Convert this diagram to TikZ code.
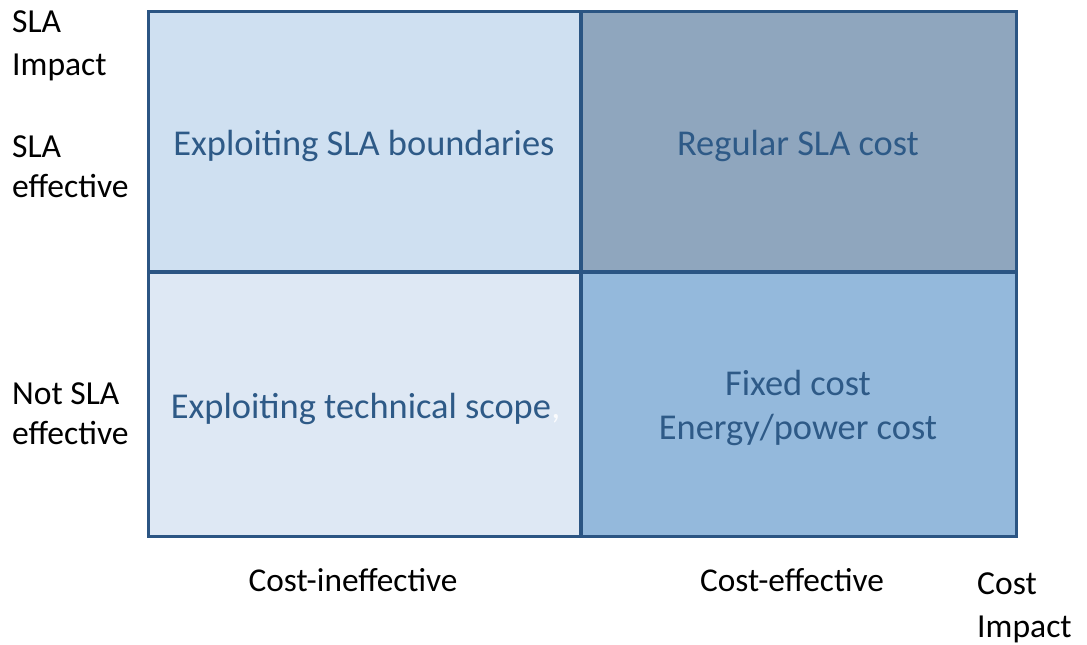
\documentclass[tikz,border=0pt]{standalone}
\usepackage{fontspec}
\setmainfont{Carlito}
\definecolor{tlfill}{HTML}{CFE0F1}
\definecolor{trfill}{HTML}{8FA6BE}
\definecolor{blfill}{HTML}{DEE8F4}
\definecolor{brfill}{HTML}{94B9DC}
\definecolor{gridline}{HTML}{2B5583}
\definecolor{celltext}{HTML}{2E5A87}
\tikzset{
  cellbox/.style={draw=gridline,line width=3.2pt},
  celllabel/.style={anchor=base,inner sep=0pt,text=celltext,font=\fontsize{36.4}{44}\selectfont},
  axislabel/.style={anchor=base west,inner sep=0pt,text=black,font=\fontsize{33.6}{40}\selectfont},
  ticklabel/.style={anchor=base,inner sep=0pt,text=black,font=\fontsize{33.3}{40}\selectfont}
}
\begin{document}
\begin{tikzpicture}[x=1pt,y=-1pt]
\useasboundingbox[fill=white] (0,0) rectangle (1087,645);
% cells
\fill[tlfill] (147,10) rectangle (581,272);
\fill[trfill] (581,10) rectangle (1015,272);
\fill[blfill] (147,272) rectangle (581,535);
\fill[brfill] (581,272) rectangle (1015,535);
\node[cellbox,minimum width=868pt,minimum height=525pt,anchor=north west,inner sep=0pt] (frame) at (147,10) {};
\coordinate (mtop) at (581,10);
\coordinate (mbot) at (581,535);
\coordinate (mleft) at (147,272);
\coordinate (mright) at (1015,272);
\draw[gridline,line width=3.2pt] (mtop) -- (mbot);
\draw[gridline,line width=3.2pt] (mleft) -- (mright);
% cell texts
\node[celllabel] (tl) at (364,155) {Exploiting SLA boundaries};
\node[celllabel] (tr) at (798,155) {Regular SLA cost};
\node[celllabel] (bl) at (361,418) {Exploiting technical scope};
\node[anchor=base west,inner sep=0pt,text=white!85!blfill,font=\fontsize{36}{44}\selectfont] (comma) at (bl.base east) {,};
\node[celllabel] (br1) at (798,395) {Fixed cost};
\node[celllabel] (br2) at (798,439) {Energy/power cost};
% axis labels
\node[axislabel] (sla1) at (12,32) {SLA};
\node[axislabel] (imp1) at (12,75) {Impact};
\node[axislabel] (sla2) at (12,157) {SLA};
\node[axislabel] (eff1) at (12,197) {effective};
\node[axislabel] (nsla) at (12,404) {Not SLA};
\node[axislabel] (eff2) at (12,444) {effective};
\node[ticklabel] (cin) at (353,591) {Cost-ineffective};
\node[ticklabel] (cef) at (792,591) {Cost-effective};
\node[axislabel] (cost) at (977,594) {Cost};
\node[axislabel] (imp2) at (977,637) {Impact};
\end{tikzpicture}
\end{document}
